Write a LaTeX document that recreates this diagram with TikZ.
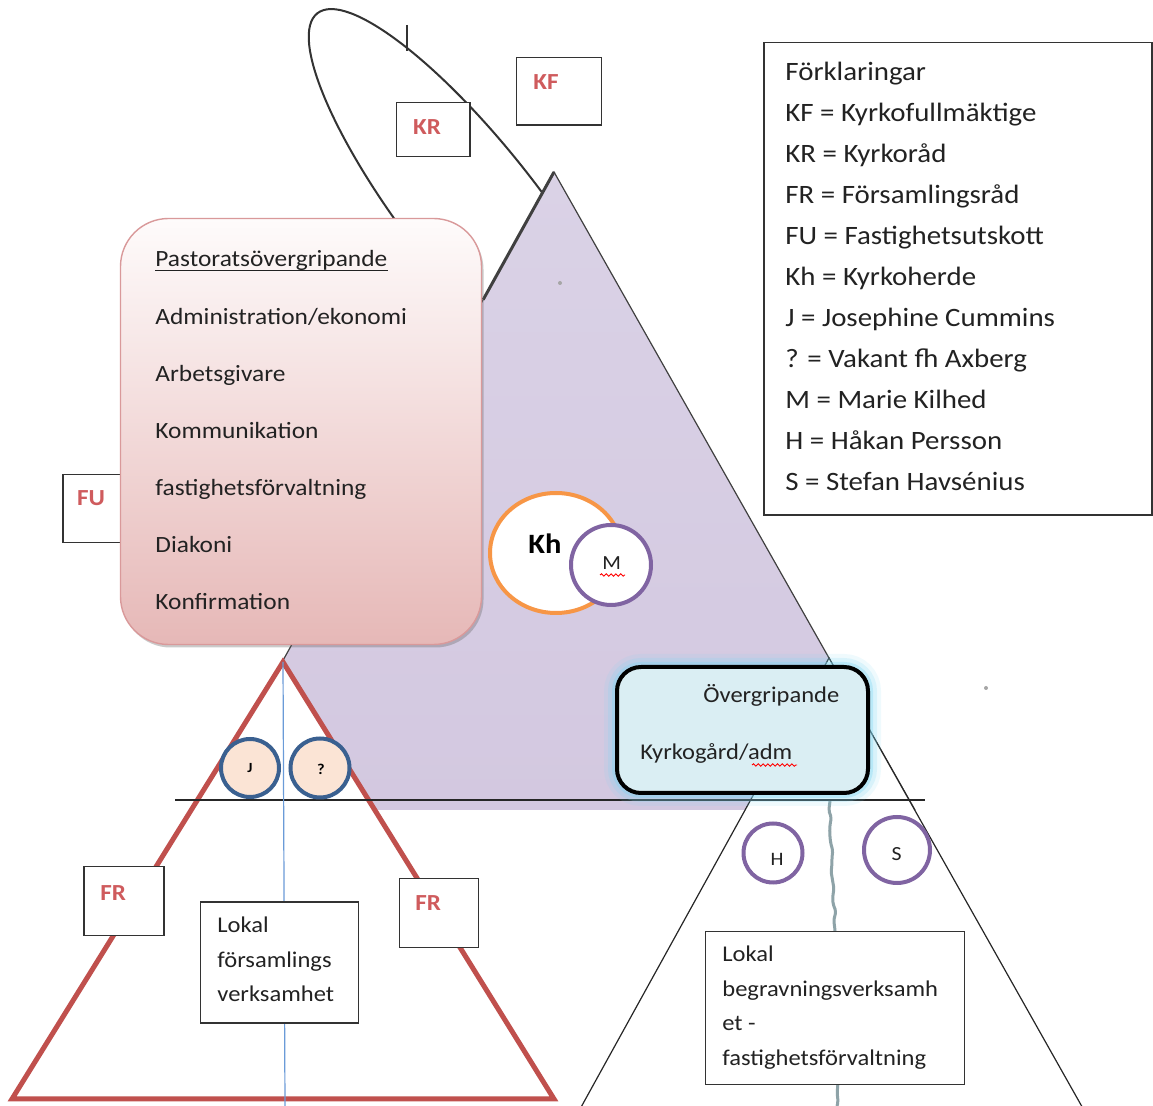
\documentclass[tikz,border=0pt]{standalone}
\usepackage{fontspec}
\setmainfont{Carlito}[FakeStretch=1.09]
\usetikzlibrary{shadows,decorations.pathmorphing,calc,shapes.geometric}
\definecolor{purpTop}{HTML}{DAD2E6}
\definecolor{purpMid}{HTML}{E9E4F0}
\definecolor{purpBot}{HTML}{D3C8E0}
\definecolor{redTri}{HTML}{C0504D}
\definecolor{redLbl}{HTML}{CF5B5D}
\definecolor{pinkTop}{HTML}{FEFBFB}
\definecolor{pinkBot}{HTML}{E6B8B7}
\definecolor{pinkEdge}{HTML}{D9999A}
\definecolor{orangeC}{HTML}{F79646}
\definecolor{purpC}{HTML}{8064A2}
\definecolor{blueC}{HTML}{3A6090}
\definecolor{peach}{HTML}{FBE4D5}
\definecolor{ogFill}{HTML}{DAEEF3}
\definecolor{glowC}{HTML}{7FD6F2}
\definecolor{blueLine}{HTML}{6A9BD8}
\definecolor{grayWave}{HTML}{8EA3A8}
\definecolor{txtC}{HTML}{222222}
\begin{document}
\begin{tikzpicture}[x=0.5pt,y=-0.5pt,
  lblbox/.style={draw=black!80, line width=0.6pt, fill=white, inner sep=0},
  redlbl/.style={inner sep=0, font=\fontsize{11.5}{13}\selectfont\bfseries, text=redLbl},
  txt/.style={inner sep=0, anchor=base west, text=txtC},
  legtxt/.style={txt, font=\fontsize{13.25}{16}\selectfont},
  pinktxt/.style={txt, font=\fontsize{11.65}{14}\selectfont},
  boxtxt/.style={txt, font=\fontsize{11.25}{14}\selectfont},
  pcirc/.style={circle, draw=purpC, line width=2pt, fill=white, inner sep=0},
  bcirc/.style={circle, draw=blueC, line width=2pt, fill=peach, inner sep=0},
  squig/.style={red, line width=0.45pt, decorate, decoration={snake, amplitude=0.6pt, segment length=2.4pt}},
  triedge/.style={draw=black!75, line width=0.6pt}
]
\useasboundingbox (0,0) rectangle (1153,1106);
\clip (0,0) rectangle (1153,1106);

% ellipse and small tick
\draw[black!80, line width=1pt, shift={(475,215)}, rotate=-52] (0,0) ellipse [x radius=256, y radius=67];
\coordinate (vt) at (407,25);
\coordinate (vb) at (407,51);
\draw[black!80, line width=0.6pt] (vt) -- (vb);

% KR and KF boxes
\node[lblbox, minimum width=36.7pt, minimum height=27pt] (krbox) at (433.3,129.7) {};
\node[redlbl] (krl) at (427,127) {KR};
\node[lblbox, minimum width=42.5pt, minimum height=33.8pt] (kfbox) at (559.2,91.2) {};
\node[redlbl] (kfl) at (546,82) {KF};

% purple triangle
\coordinate (pa) at (554,172);
\coordinate (pl) at (200,810);
\coordinate (pr) at (915,810);
\shade[top color=purpTop, middle color=purpMid, bottom color=purpBot] (pa) -- (pl) -- (pr) -- cycle;
\draw[triedge] (pl) -- (pa) -- (pr);
\draw[triedge, line width=1.5pt] (pa) -- ($(pa)!0.2!(pl)$);
\fill[gray!70] (560,283) circle (1pt);
\fill[gray!70] (986,688) circle (1pt);

% red triangle
\coordinate (ra) at (283,662);
\coordinate (rl) at (12,1099);
\coordinate (rr) at (554,1099);
\draw[redTri, line width=2.5pt, fill=white, line join=miter] (ra) -- (rl) -- (rr) -- cycle;

% lower right triangle
\coordinate (la) at (829,658);
\coordinate (ll) at (474.6,1300);
\coordinate (lr) at (1191,1300);
\fill[white] (la) -- (ll) -- (lr) -- cycle;
\draw[black!85, line width=0.6pt] (ll) -- (la) -- (lr);

% horizontal line
\coordinate (hl) at (175,800);
\coordinate (hr) at (925,800);
\draw[black!85, line width=0.6pt] (hl) -- (hr);

% blue vertical line
\coordinate (bb) at (285,1106);
\draw[blueLine, line width=0.6pt] (ra) -- (bb);

% gray wavy line
\coordinate (gt) at (830,801);
\coordinate (gm) at (835,931);
\coordinate (gb) at (837,1106);
\draw[grayWave, line width=1.5pt, rounded corners=1pt, decorate, decoration={random steps, segment length=4pt, amplitude=0.9pt}] (gt) -- (gm) -- (gb);

% FU box (behind pink box)
\node[lblbox, minimum width=36pt, minimum height=34.3pt] (fubox) at (99,508.5) {};
\node[redlbl] (ful) at (91,498) {FU};

% pink box
\node[draw=pinkEdge, line width=0.7pt, top color=pinkTop, bottom color=pinkBot, rounded corners=24pt,
      minimum width=180.5pt, minimum height=213pt, inner sep=0,
      drop shadow={shadow xshift=1pt, shadow yshift=-1.5pt, fill=black!60, opacity=0.35}] (pink) at (301,431.5) {};
\node[pinktxt] (p0) at (155,267) {Pastoratsövergripande};
\draw[txtC, line width=0.5pt] ([yshift=-1.6pt]p0.base west) -- ([yshift=-1.6pt]p0.base east);
\node[pinktxt] (p1) at (155,325) {Administration/ekonomi};
\node[pinktxt] (p2) at (155,382) {Arbetsgivare};
\node[pinktxt] (p3) at (155,439) {Kommunikation};
\node[pinktxt] (p4) at (155,496) {fastighetsförvaltning};
\node[pinktxt] (p5) at (155,553) {Diakoni};
\node[pinktxt] (p6) at (155,610) {Konfirmation};

% Kh and M
\node[ellipse, draw=orangeC, line width=2pt, fill=white, minimum width=66pt, minimum height=60pt, inner sep=0] (kh) at (556,553) {};
\node[inner sep=0, font=\fontsize{14}{16}\selectfont\bfseries, text=black] (khl) at (545,544) {Kh};
\node[pcirc, minimum size=40pt] (m) at (611,565) {};
\node[inner sep=0, font=\fontsize{10}{12}\selectfont, text=txtC] (ml) at (611.7,563.5) {M};
\coordinate (msa) at (600,575);
\coordinate (msb) at (625,575);
\draw[squig] (msa) -- (msb);

% J and ?
\node[bcirc, minimum size=29pt] (j) at (250,768) {};
\node[inner sep=0, font=\fontsize{7}{8}\selectfont\bfseries, text=black] (jl) at (250,768) {J};
\node[bcirc, minimum size=29.5pt] (q) at (320,768) {};
\node[inner sep=0, font=\fontsize{7.5}{8}\selectfont\bfseries, text=black] (ql) at (321,769) {?};

% H and S
\node[pcirc, minimum size=29.5pt] (h) at (773,853) {};
\node[inner sep=0, font=\fontsize{9.5}{11}\selectfont, text=txtC] (hl2) at (777,859) {H};
\node[pcirc, minimum size=33pt] (s) at (897,850) {};
\node[inner sep=0, font=\fontsize{10}{11}\selectfont, text=txtC] (sl) at (896.7,853.7) {S};

% Overgripande box with glow
\node[draw=black, line width=2pt, fill=ogFill, rounded corners=12pt,
      minimum width=125.5pt, minimum height=63pt, inner sep=0,
      preaction={draw=glowC, fill=none, line width=13pt, opacity=0.12},
      preaction={draw=glowC, fill=none, line width=9pt, opacity=0.2},
      preaction={draw=glowC, fill=none, line width=5pt, opacity=0.35}] (og) at (742.5,730) {};
\node[boxtxt] (og1) at (703,703) {Övergripande};
\node[boxtxt] (og2) at (640,760) {Kyrkogård/adm};
\coordinate (asa) at (752,765);
\coordinate (asb) at (797,765);
\draw[squig] (asa) -- (asb);

% FR boxes
\node[lblbox, minimum width=40pt, minimum height=34.5pt] (frL) at (124,901.3) {};
\node[redlbl] (frLl) at (113.3,893.3) {FR};
\node[lblbox, minimum width=39.5pt, minimum height=34.7pt] (frR) at (438.8,913) {};
\node[redlbl] (frRl) at (428.3,903.3) {FR};

% Lokal forsamlings box
\node[lblbox, minimum width=79pt, minimum height=60.5pt] (lf) at (279.7,962.5) {};
\node[boxtxt] (lf1) at (217,933) {Lokal};
\node[boxtxt] (lf2) at (217,967.5) {församlings};
\node[boxtxt] (lf3) at (217,1002) {verksamhet};

% Lokal begravnings box
\node[lblbox, minimum width=129.5pt, minimum height=76.5pt] (lb) at (835,1008.3) {};
\node[boxtxt] (lb1) at (722,962) {Lokal};
\node[boxtxt] (lb2) at (722,996.5) {begravningsverksamh};
\node[boxtxt] (lb3) at (722,1031) {et -};
\node[boxtxt] (lb4) at (722,1066) {fastighetsförvaltning};

% legend
\node[lblbox, minimum width=194pt, minimum height=236.4pt] (leg) at (958,278.6) {};
\node[legtxt] (l0) at (785,81) {Förklaringar};
\node[legtxt] (l1) at (785,122) {KF = Kyrkofullmäktige};
\node[legtxt] (l2) at (785,163) {KR = Kyrkoråd};
\node[legtxt] (l3) at (785,204) {FR = Församlingsråd};
\node[legtxt] (l4) at (785,245) {FU = Fastighetsutskott};
\node[legtxt] (l5) at (785,286) {Kh = Kyrkoherde};
\node[legtxt] (l6) at (785,327) {J = Josephine Cummins};
\node[legtxt] (l7) at (785,368) {? = Vakant fh Axberg};
\node[legtxt] (l8) at (785,409) {M = Marie Kilhed};
\node[legtxt] (l9) at (785,450) {H = Håkan Persson};
\node[legtxt] (l10) at (785,491) {S = Stefan Havsénius};
\end{tikzpicture}
\end{document}
